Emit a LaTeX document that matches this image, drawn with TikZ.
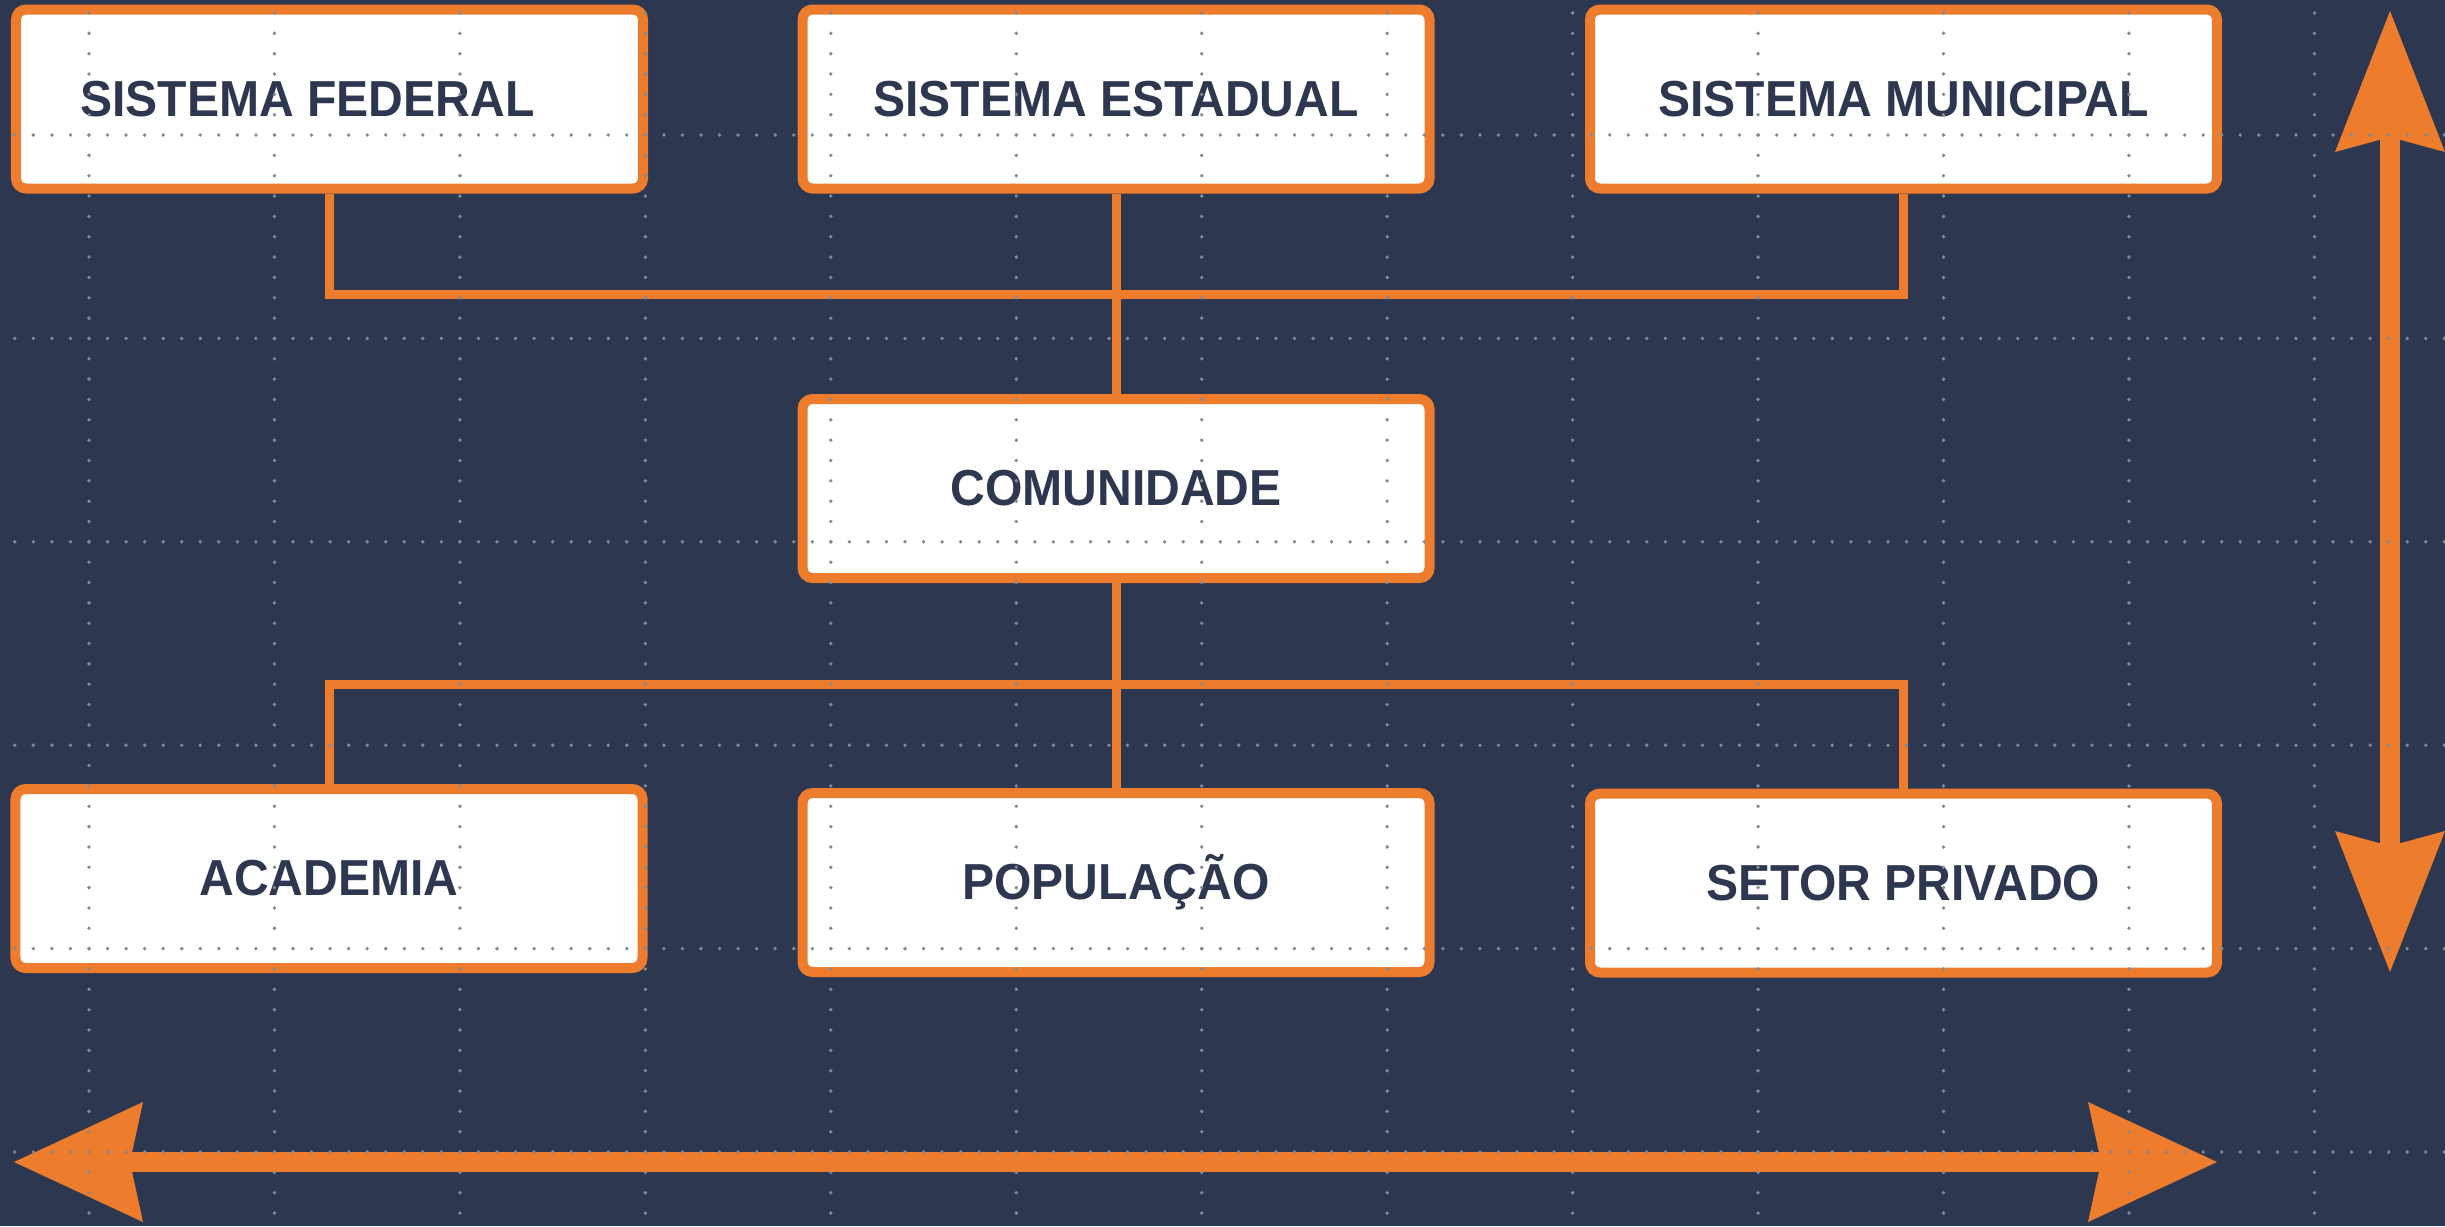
\documentclass[tikz,border=0pt]{standalone}
\usepackage{fontspec}
\setmainfont{Liberation Sans}[FakeStretch=0.95]
\usetikzlibrary{arrows.meta}
\definecolor{navy}{RGB}{46,55,80}
\definecolor{tangerine}{RGB}{237,125,45}
\definecolor{dotgray}{RGB}{132,137,148}
\tikzset{
    vhead/.tip={Stealth[length=1.41cm,width=1.1cm,inset=0.15cm,line width=0pt]},
    hhead/.tip={Stealth[length=1.29cm,width=1.2cm,inset=0.13cm,line width=0pt]}
}

\begin{document}
\begin{tikzpicture}[
                box/.style={draw=tangerine,fill=white,line width=0.1cm,rounded corners=0.1cm,
                    minimum width=6.27cm,minimum height=1.79cm,text=navy,
                    font=\fontsize{14.4}{17}\selectfont\bfseries},
                link/.style={draw=tangerine,line width=0.09cm},
                bigarrow/.style={draw=tangerine,line width=0.2cm},
                griddot/.style={draw=dotgray,line width=0.038cm,line cap=round}
            ]
                \fill[navy] (0,0) rectangle (24.45,-12.26);
                \useasboundingbox (0,0) rectangle (24.45,-12.26);

                \coordinate (topbus) at (0,-2.94);
                \coordinate (botbus) at (0,-6.84);

                \node[box] (federal) at (3.295,-0.99) {\hspace*{-0.44cm}SISTEMA FEDERAL};
                \node[box] (estadual) at (11.16,-0.99) {SISTEMA ESTADUAL};
                \node[box] (municipal) at (19.035,-0.99) {SISTEMA MUNICIPAL};
                \node[box] (comunidade) at (11.16,-4.885) {COMUNIDADE};
                \node[box] (academia) at (3.29,-8.785) {ACADEMIA};
                \node[box] (populacao) at (11.16,-8.825) {POPULAÇÃO};
                \node[box] (setor) at (19.035,-8.83) {SETOR PRIVADO};

                \draw[link] (federal.south) -- (federal.south |- topbus) -- (municipal.south |- topbus) -- (municipal.south);
                \draw[link] (estadual.south) -- (comunidade.north);
                \draw[link] (comunidade.south) -- (populacao.north);
                \draw[link] (academia.north) -- (academia.north |- botbus) -- (setor.north |- botbus) -- (setor.north);

                \coordinate (vtop) at (23.90,-0.11);
                \coordinate (vbottom) at (23.90,-9.72);
                \coordinate (hleft) at (0.14,-11.62);
                \coordinate (hright) at (22.17,-11.62);
                \draw[bigarrow,arrows={vhead-vhead}] (vtop) -- (vbottom);
                \draw[bigarrow,arrows={hhead-hhead}] (hleft) -- (hright);

                \foreach \k in {0,...,5}
                    \draw[griddot,dash pattern=on 0pt off 0.18545cm] (0.1482,{-1.35-2.034*\k}) -- (24.45,{-1.35-2.034*\k});
                \foreach \k in {0,...,12}
                    \draw[griddot,dash pattern=on 0pt off 0.2034cm] ({0.89+1.8545*\k},-0.13) -- ({0.89+1.8545*\k},-12.26);
            \end{tikzpicture}
\end{document}
